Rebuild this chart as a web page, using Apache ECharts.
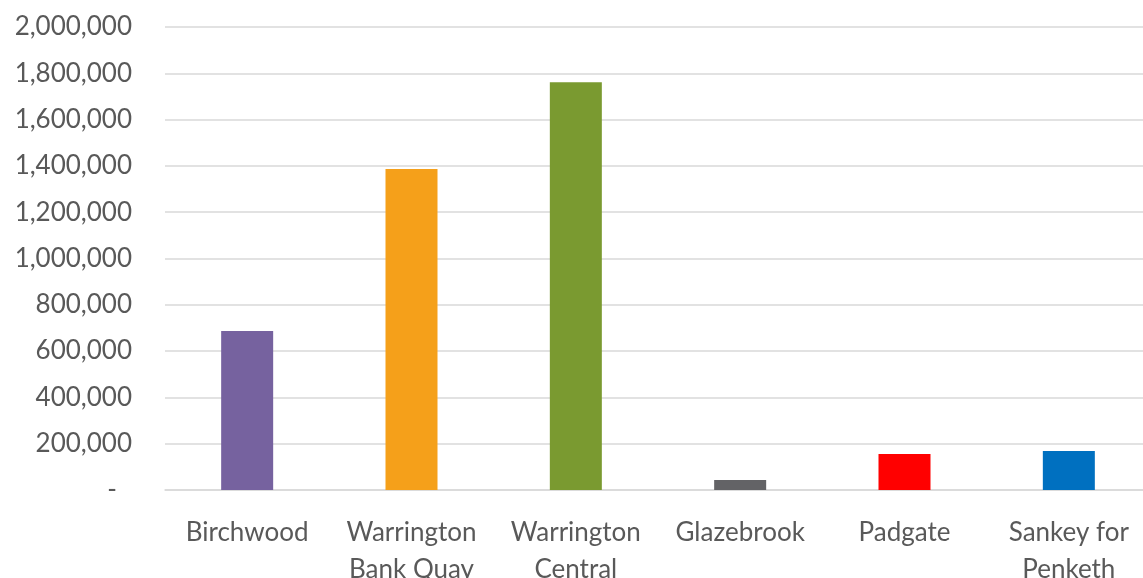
<!DOCTYPE html>
<html>
<head>
<meta charset="utf-8">
<script src="https://cdn.jsdelivr.net/npm/echarts@6/dist/echarts.min.js"></script>
<style>
  html, body { margin: 0; padding: 0; background: #ffffff; }
  #chart { width: 1143px; height: 578px; }
</style>
</head>
<body>
<div id="chart"></div>
<script>
// Station names (multi-line where the label wraps)
const stations = [
  'Birchwood',
  'Warrington\nBank Quay',
  'Warrington\nCentral',
  'Glazebrook',
  'Padgate',
  'Sankey for\nPenketh'
];

// Passenger entries and exits per station
const passengers = [687000, 1387000, 1761000, 43000, 155500, 168500];

// One fill colour per station bar
const barColors = ['#76629F', '#F5A01A', '#7A9A30', '#636366', '#FF0000', '#0070C0'];

// Value axis range
const axisMin = 0;
const axisMax = 2000000;
const axisStep = 200000;

const fontFamily = 'Lato, "Open Sans", sans-serif';
const textColor = '#595959';

const chart = echarts.init(document.getElementById('chart'), null, { renderer: 'canvas' });

chart.setOption({
  backgroundColor: '#ffffff',
  animation: false,
  grid: {
    left: 165, right: -8, top: 27, bottom: 88,
    containLabel: false,
    outerBoundsMode: 'none'
  },
  xAxis: {
    type: 'category',
    data: stations,
    axisLine: { show: true, lineStyle: { color: '#D9D9D9', width: 1.5 } },
    axisTick: { show: false },
    axisLabel: {
      color: textColor,
      fontFamily: fontFamily,
      fontSize: 26,
      lineHeight: 37,
      margin: 24,
      interval: 0
    }
  },
  yAxis: {
    type: 'value',
    min: axisMin,
    max: axisMax,
    interval: axisStep,
    axisLine: { show: false },
    axisTick: { show: false },
    splitLine: { lineStyle: { color: '#D9D9D9', width: 1.5 } },
    axisLabel: {
      color: textColor,
      fontFamily: fontFamily,
      fontSize: 26,
      margin: 33,
      formatter: function (v) {
        if (v === 0) return '{dash|-}';
        return v.toLocaleString('en-GB');
      },
      rich: {
        dash: { color: textColor, fontFamily: fontFamily, fontSize: 26, padding: [0, 15, 0, 0] }
      }
    }
  },
  series: [{
    type: 'bar',
    barWidth: 52,
    data: passengers.map((v, i) => ({ value: v, itemStyle: { color: barColors[i] } }))
  }]
});
</script>
</body>
</html>
